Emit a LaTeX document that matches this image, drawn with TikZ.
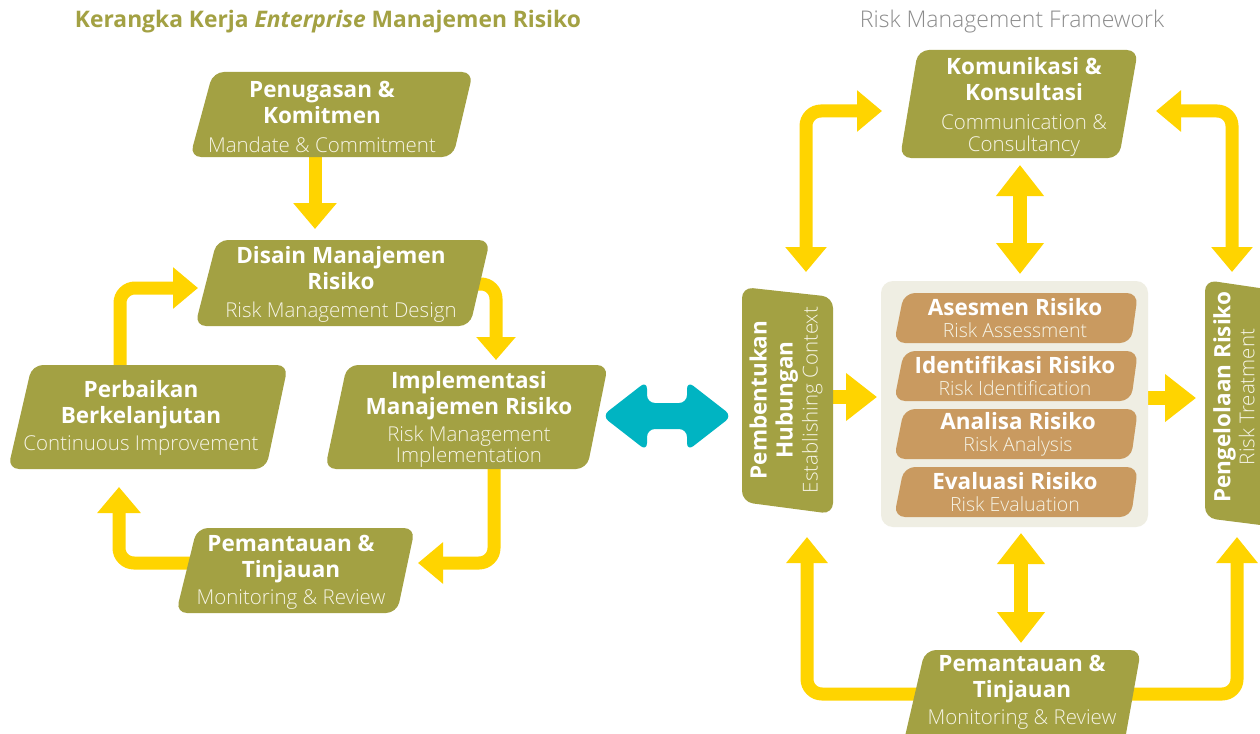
\documentclass[tikz,border=0pt]{standalone}
\usepackage{fontspec}
\setmainfont{Open Sans}
\newfontfamily\lightf{Open Sans Light}
\usetikzlibrary{arrows.meta,calc}
\definecolor{olv}{HTML}{A3A143}
\definecolor{ylwc}{HTML}{FFD400}
\definecolor{tealc}{HTML}{00B4C2}
\definecolor{tanc}{HTML}{C99A60}
\definecolor{panelc}{HTML}{EFEEE3}
\definecolor{grayt}{HTML}{8C8C8C}
\definecolor{subw}{HTML}{F6F4E6}
\pgfdeclarelayer{back}\pgfdeclarelayer{bg}\pgfsetlayers{back,bg,main}
\newcommand\bt{\fontsize{22.5}{26}\selectfont\bfseries}
\newcommand\st{\fontsize{20.5}{22}\selectfont\lightf\mdseries\color{subw}}
\newcommand\pbt{\fontsize{22.5}{24}\selectfont\bfseries}
\newcommand\pst{\fontsize{19.5}{20}\selectfont\lightf\mdseries\color{subw}}
% parallelogram: colour, TLx, TRx, top y, BRx, BLx, bottom y
\newcommand\pgm[7]{\fill[#1, rounded corners=11pt] (#2,#4) -- (#3,#4) -- (#5,#7) -- (#6,#7) -- cycle;}
\begin{document}
\begin{tikzpicture}[x=1pt,y=-1pt,
  boxtxt/.style={align=center, text=white, inner sep=0pt, font=\bt},
  pantxt/.style={align=center, text=white, inner sep=0pt, font=\pbt},
  yarr/.style={draw=ylwc, line width=13pt, rounded corners=15pt,
    -{Triangle[width=42pt,length=26pt]}},
  ydbl/.style={draw=ylwc, line width=14pt,
    {Triangle[width=46pt,length=31pt]}-{Triangle[width=46pt,length=31pt]}},
  ybend/.style={draw=ylwc, line width=13pt, rounded corners=15pt,
    {Triangle[width=40pt,length=25pt]}-{Triangle[width=40pt,length=25pt]}},
  ystraight/.style={draw=ylwc, line width=14pt,
    -{Triangle[width=46pt,length=31pt]}}
]
\useasboundingbox (0,0) rectangle (1260,733);
\begin{pgfonlayer}{back}
\fill[white] (0,0) rectangle (1260,733);
\end{pgfonlayer}

% titles
\node[text=olv, font=\fontsize{22.8}{26}\selectfont\bfseries] (ttl) at (328,22)
  {Kerangka Kerja \textit{Enterprise} Manajemen Risiko};
\node[text=grayt, font=\fontsize{23}{26}\selectfont\lightf\mdseries] (ttr) at (1012,22)
  {Risk Management Framework};

% ---------- left cycle ----------
\pgm{olv}{213}{473}{72}{453}{190}{157}
\node[boxtxt] (pen) at (322,117) {Penugasan \&\\Komitmen\\[3pt]{\st Mandate \& Commitment}};
\pgm{olv}{217}{490}{240}{470}{195}{326}
\node[boxtxt] (dis) at (341,284) {Disain Manajemen\\Risiko\\[2pt]{\st Risk Management Design}};
\pgm{olv}{32}{288}{365}{266}{8}{469}
\node[boxtxt] (per) at (141,418) {Perbaikan\\Berkelanjutan\\[1pt]{\st Continuous Improvement}};
\pgm{olv}{347}{608}{365}{587}{325}{469}
\node[boxtxt] (imp) at (469,419) {Implementasi\\Manajemen Risiko\\[1pt]{\st Risk Management}\\[-5pt]{\st Implementation}};
\pgm{olv}{197}{415}{528}{397}{176}{613}
\node[boxtxt] (mon) at (291,572) {Pemantauan \&\\Tinjauan\\[1pt]{\st Monitoring \& Review}};

% ---------- right framework ----------
\pgm{olv}{918}{1138}{50}{1119}{900}{158}
\node[boxtxt] (kom) at (1024,107) {Komunikasi \&\\Konsultasi\\[3pt]{\st Communication \&}\\[-4pt]{\st Consultancy}};
\pgm{olv}{925}{1141}{650}{1124}{903}{745}
\node[boxtxt] (rmon) at (1022,692) {Pemantauan \&\\Tinjauan\\[1pt]{\st Monitoring \& Review}};

% context box (vertical)
\fill[olv, rounded corners=11pt] (742,287) -- (833,297) -- (833,514) -- (742,502) -- cycle;
\node[boxtxt, rotate=90] (ctx) at (786,400) {Pembentukan\\Hubungan\\[-1pt]{\st Establishing Context}};
% treatment box (vertical)
\fill[olv, rounded corners=11pt] (1205,280) -- (1300,294) -- (1300,530) -- (1205,518) -- cycle;
\node[boxtxt, rotate=90] (trt) at (1234,397) {Pengelolaan Risiko\\[-2pt]{\st Risk Treatment}};

% assessment panel
\fill[panelc, rounded corners=12pt] (881,281) rectangle (1148,527);
\coordinate (pnl) at (1014,404);
\pgm{tanc}{904}{1138}{293}{1131}{894}{343}
\node[pantxt] (ase) at (1015,318) {Asesmen Risiko\\[-2pt]{\pst Risk Assessment}};
\pgm{tanc}{904}{1138}{351}{1131}{894}{401}
\node[pantxt] (ide) at (1015,376) {Identifikasi Risiko\\[-2pt]{\pst Risk Identification}};
\pgm{tanc}{904}{1138}{409}{1131}{894}{459}
\node[pantxt] (ana) at (1018,434) {Analisa Risiko\\[-2pt]{\pst Risk Analysis}};
\pgm{tanc}{904}{1138}{467}{1131}{894}{517}
\node[pantxt] (eva) at (1015,492) {Evaluasi Risiko\\[-2pt]{\pst Risk Evaluation}};

% ---------- connectors ----------
\begin{pgfonlayer}{bg}
% left
\coordinate (a1s) at (315,150); \coordinate (a1e) at (315,229);
\draw[yarr] (a1s) -- (a1e);
\coordinate (a2s) at (120,375); \coordinate (a2e) at (198,288);
\draw[yarr, -{Triangle[width=40pt,length=25pt]}] (a2s) |- (a2e);
\coordinate (a3s) at (465,284); \coordinate (a3e) at (496,360);
\draw[yarr, -{Triangle[width=38pt,length=23pt]}] (a3s) -| (a3e);
\coordinate (a4s) at (494,460); \coordinate (a4e) at (418,563);
\draw[yarr, -{Triangle[width=40pt,length=25pt]}] (a4s) |- (a4e);
\coordinate (a5s) at (200,563); \coordinate (a5e) at (119,487);
\draw[yarr] (a5s) -| (a5e);
% right
\coordinate (b1s) at (806,272); \coordinate (b1e) at (882,111);
\draw[ybend] (b1s) |- (b1e);
\coordinate (b3s) at (1156,111); \coordinate (b3e) at (1232,272);
\draw[ybend] (b3s) -| (b3e);
\coordinate (b2s) at (1020,165); \coordinate (b2e) at (1020,274);
\draw[ydbl] (b2s) -- (b2e);
\coordinate (b6s) at (1021,533); \coordinate (b6e) at (1021,643);
\draw[ydbl] (b6s) -- (b6e);
\coordinate (b4s) at (825,397); \coordinate (b4e) at (877,397);
\draw[ystraight] (b4s) -- (b4e);
\coordinate (b5s) at (1146,398); \coordinate (b5e) at (1196,398);
\draw[ystraight] (b5s) -- (b5e);
\coordinate (b7s) at (930,694); \coordinate (b7e) at (807,537);
\draw[yarr, -{Triangle[width=40pt,length=26pt]}] (b7s) -| (b7e);
\coordinate (b8s) at (1115,694); \coordinate (b8e) at (1237,537);
\draw[yarr, -{Triangle[width=40pt,length=26pt]}] (b8s) -| (b8e);
\end{pgfonlayer}

% teal double arrow between the two frameworks
\coordinate (tl) at (602,416); \coordinate (tr) at (732,416);
\fill[tealc, rounded corners=8pt] (tl) -- (647,381) -- (647,403) -- (687,403) -- (687,381)
  -- (tr) -- (687,451) -- (687,429) -- (647,429) -- (647,451) -- cycle;
\end{tikzpicture}
\end{document}
